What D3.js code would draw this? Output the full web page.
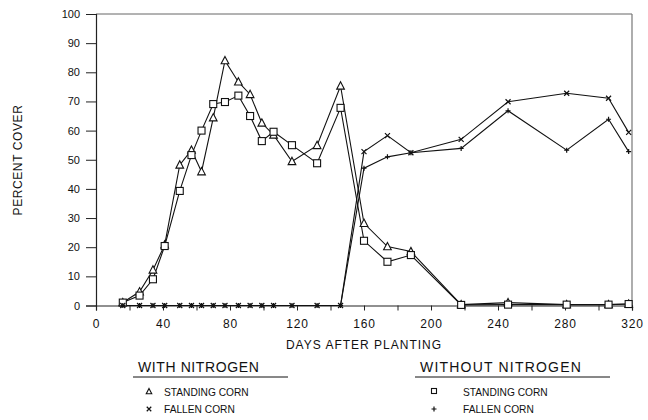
<!DOCTYPE html>
<html><head><meta charset="utf-8">
<script src="https://cdn.jsdelivr.net/npm/d3@7"></script>
<style>
body{margin:0;background:#fff;}
text{font-family:"Liberation Sans",Arial,Helvetica,sans-serif;fill:#111;}
</style></head>
<body><svg id="c" width="648" height="420"></svg>
<script>
const days = [16,26,34,41,50,57,63,70,77,85,92,99,106,117,132,146,160,174,188,218,246,281,306,318];
const withNStanding = [1,4.7,12.2,20.8,48.2,53.3,45.9,64.4,84,76.7,72.4,62.6,58.5,49.4,54.9,75.3,28.2,20.2,18.5,0.3,1.0,0.3,0.3,0.5];
const withNFallen   = [0,0,0,0,0,0,0,0,0,0,0,0,0,0,0,0,52.8,58.3,52.4,57,69.9,72.8,71.1,59.4];
const withoutNStanding = [1,3.4,9.0,20.4,39.3,51.6,60,69.1,69.8,72,65,56.4,59.6,55,48.8,67.8,22.2,15,17.3,0.2,0.3,0.3,0.3,0.5];
const withoutNFallen   = [0,0,0,0,0,0,0,0,0,0,0,0,0,0,0,0,47.1,51,52.4,53.9,66.8,53.3,63.9,52.8];
const xTickLabels = [0,40,80,120,160,200,240,280,320];
const yTickLabels = [0,10,20,30,40,50,60,70,80,90,100];

const svg = d3.select("#c");
const x = d3.scaleLinear().domain([0,320]).range([96,632]);
const y = d3.scaleLinear().domain([0,100]).range([305.5,14]);

// frame
svg.append("line").attr("x1",96).attr("x2",632).attr("y1",14).attr("y2",14).attr("stroke","#666").attr("stroke-width",1);
svg.append("line").attr("x1",632).attr("x2",632).attr("y1",14).attr("y2",305.5).attr("stroke","#777").attr("stroke-width",1.2);

// y axis
const yAxis = d3.axisLeft(y).tickValues(yTickLabels).tickSize(10).tickPadding(6).tickFormat(d3.format("d"));
const gy = svg.append("g").attr("transform","translate(96,0)").call(yAxis);
gy.select(".domain").attr("stroke","#222").attr("stroke-width",1.2);
gy.selectAll(".tick line").attr("stroke","#222");
gy.selectAll("text").attr("font-size",11).attr("font-family","Liberation Sans, Arial").attr("fill","#111");

// x axis
const xAxis = d3.axisBottom(x).tickValues(d3.range(0,321,20)).tickSize(5).tickPadding(9)
  .tickFormat(d => xTickLabels.includes(d) ? d : "");
const gx = svg.append("g").attr("transform","translate(0,305.5)").call(xAxis);
gx.select(".domain").attr("stroke","#222").attr("stroke-width",1.2);
gx.selectAll(".tick line").attr("stroke","#222");
gx.selectAll("text").attr("font-size",12).attr("font-family","Liberation Sans, Arial").attr("fill","#111").attr("letter-spacing","0.8");

// axis titles
svg.append("text").attr("x",364).attr("y",349).attr("text-anchor","middle").attr("font-size",12)
  .attr("letter-spacing","1").text("DAYS AFTER PLANTING");
svg.append("text").attr("transform","translate(22,160) rotate(-90)").attr("text-anchor","middle")
  .attr("font-size",12).attr("letter-spacing","0.6").text("PERCENT COVER");

const line = d3.line().x(d=>x(d[0])).y(d=>y(d[1]));
const series = [
  {vals: withNStanding, sym: "tri"},
  {vals: withoutNStanding, sym: "sq"},
  {vals: withNFallen, sym: "x"},
  {vals: withoutNFallen, sym: "plus"}
];

function drawMarker(g, sym, cx, cy, s) {
  if (sym === "tri") {
    g.append("path").attr("d", `M${cx},${cy-s*0.6}L${cx+s*0.55},${cy+s*0.45}L${cx-s*0.55},${cy+s*0.45}Z`)
      .attr("fill","#fff").attr("stroke","#111").attr("stroke-width",1.1);
  } else if (sym === "sq") {
    g.append("rect").attr("x",cx-s/2).attr("y",cy-s/2).attr("width",s).attr("height",s)
      .attr("fill","#fff").attr("stroke","#111").attr("stroke-width",1.1);
  } else if (sym === "x") {
    const h = s/2;
    g.append("path").attr("d",`M${cx-h},${cy-h}L${cx+h},${cy+h}M${cx-h},${cy+h}L${cx+h},${cy-h}`)
      .attr("stroke","#111").attr("stroke-width",1.2);
  } else {
    const h = s/2;
    g.append("path").attr("d",`M${cx-h},${cy}L${cx+h},${cy}M${cx},${cy-h}L${cx},${cy+h}`)
      .attr("stroke","#111").attr("stroke-width",1.2);
  }
}

series.forEach(s => {
  const data = days.map((d,i)=>[d, s.vals[i]]);
  svg.append("path").datum(data).attr("d",line).attr("fill","none").attr("stroke","#111").attr("stroke-width",1.1);
});
series.forEach(s => {
  const g = svg.append("g");
  days.forEach((d,i) => drawMarker(g, s.sym, x(d), y(s.vals[i]), s.sym==="tri"||s.sym==="sq" ? 7 : 5));
});

// legend
const leg = svg.append("g");
leg.append("text").attr("x",138).attr("y",372).attr("font-size",14).attr("letter-spacing","0.6").text("WITH NITROGEN");
leg.append("line").attr("x1",133).attr("x2",288).attr("y1",377).attr("y2",377).attr("stroke","#111").attr("stroke-width",1);
drawMarker(leg,"tri",149,391.5,5);
leg.append("text").attr("x",164).attr("y",395.5).attr("font-size",10.2).text("STANDING CORN");
drawMarker(leg,"x",149,409,4.5);
leg.append("text").attr("x",164).attr("y",413).attr("font-size",10.2).text("FALLEN CORN");

leg.append("text").attr("x",420).attr("y",372).attr("font-size",14).attr("letter-spacing","1.2").text("WITHOUT NITROGEN");
leg.append("line").attr("x1",415).attr("x2",610).attr("y1",377).attr("y2",377).attr("stroke","#111").attr("stroke-width",1);
drawMarker(leg,"sq",434,391,5);
leg.append("text").attr("x",463).attr("y",395.5).attr("font-size",10.2).text("STANDING CORN");
drawMarker(leg,"plus",434,409,5);
leg.append("text").attr("x",463).attr("y",413).attr("font-size",10.2).text("FALLEN CORN");
</script></body></html>
